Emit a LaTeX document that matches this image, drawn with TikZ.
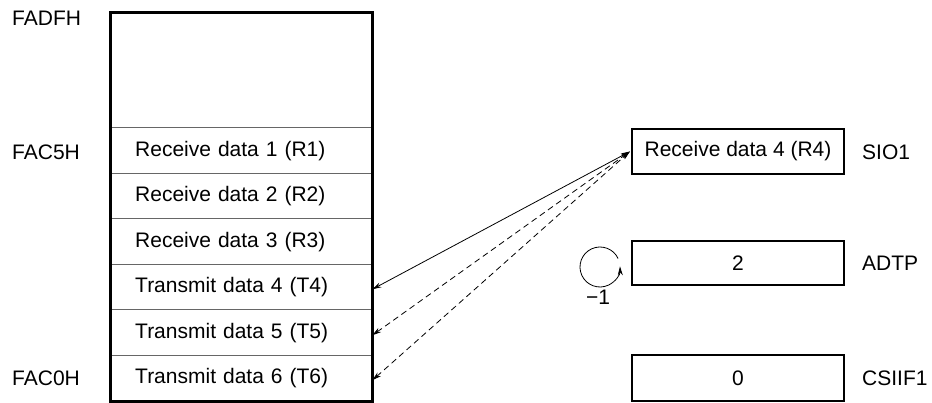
\documentclass[tikz,border=0pt]{standalone}
\usepackage{fontspec}
\setmainfont{Liberation Sans}
\usetikzlibrary{arrows.meta}
\begin{document}
\begin{tikzpicture}[x=1pt,y=-1pt,
  txt/.style={font=\fontsize{21}{24}\selectfont, inner sep=0pt},
  rowcell/.style={txt, minimum height=45.5pt, inner xsep=24pt, text width=213pt, align=left, anchor=west},
  regbox/.style={txt, draw, line width=2.2pt, minimum width=212pt, anchor=center},
  sep/.style={draw=black!60, line width=1.2pt},
  link/.style={line width=0.8pt, {Stealth[length=9pt,width=5pt]}-{Stealth[length=9pt,width=5pt]}},
  dlink/.style={link, dash pattern=on 6pt off 4pt},
  addr/.style={txt, anchor=west}]
\useasboundingbox (0,0) rectangle (932,403);
% memory column
\node[draw, line width=2.2pt, minimum width=261pt, minimum height=388pt, inner sep=0pt] (mem) at (241.5,207) {};
\node[rowcell] (r1) at (111,150.75) {Receive data 1 (R1)};
\node[rowcell] (r2) at (111,196.25) {Receive data 2 (R2)};
\node[rowcell] (r3) at (111,241.75) {Receive data 3 (R3)};
\node[rowcell] (t4) at (111,287.25) {Transmit data 4 (T4)};
\node[rowcell] (t5) at (111,332.75) {Transmit data 5 (T5)};
\node[rowcell] (t6) at (111,378.25) {Transmit data 6 (T6)};
\foreach \r in {r1,r2,r3,t4,t5,t6}{
  \draw[sep] ([xshift=1.1pt]\r.north west) -- ([xshift=-1.1pt]\r.north east);
}
\draw[line width=2.2pt] (mem.north west) rectangle (mem.south east);
% addresses
\node[addr] (aFADF) at (12,18) {FADFH};
\node[addr] (aFAC5) at (12,152) {FAC5H};
\node[addr] (aFAC0) at (12,378) {FAC0H};
% registers
\node[regbox, minimum height=45pt] (sio) at (738,151.5) {Receive data 4 (R4)};
\node[regbox, minimum height=44pt] (adtp) at (738,263) {2};
\node[regbox, minimum height=46pt] (csi) at (738,378) {0};
\node[addr] (lsio) at (862,152) {SIO1};
\node[addr] (ladtp) at (862,263) {ADTP};
\node[addr] (lcsi) at (862,378) {CSIIF1};
% connectors
\coordinate (p4) at ([yshift=-2pt]t4.east);
\coordinate (p5) at ([yshift=-2.5pt]t5.east);
\coordinate (p6) at ([yshift=-2pt]t6.east);
\coordinate (q) at ([xshift=-1pt]sio.west);
\draw[link] (p4) -- (q);
\draw[dlink] (p5) -- (q);
\draw[dlink] (p6) -- (q);
% decrement loop
\coordinate (cc) at (600,267);
\draw[line width=0.8pt, -{Stealth[length=9pt,width=5pt]}] (cc) ++(-25:20) arc[start angle=-25, end angle=-362, radius=20];
\node[txt] (m1) at (598,297) {−1};
\end{tikzpicture}
\end{document}
